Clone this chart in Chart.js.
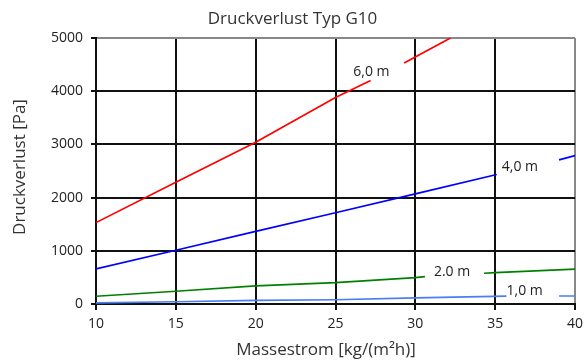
<!DOCTYPE html>
<html>
<head>
<meta charset="utf-8">
<script src="https://cdn.jsdelivr.net/npm/chart.js@4"></script>
<style>
  html, body { margin: 0; padding: 0; background: #fff; }
  #wrap { width: 585px; height: 361px; }
</style>
</head>
<body>
<div id="wrap"><canvas id="chart"></canvas></div>
<script>
// values (x = Massestrom, y = Druckverlust), null = gap for the label
const flow6 = [10, 15, 20, 25, 27.2, 28.2, 29.3, 32.2];
const loss6 = [1530, 2290, 3040, 3880, 4200, null, 4530, 5000];

const flow4 = [10, 15, 20, 25, 30, 35.1, 37, 39, 40];
const loss4 = [660, 1010, 1365, 1715, 2070, 2435, null, 2710, 2790];

const flow2 = [10, 15, 20, 25, 30, 30.6, 32.5, 34.3, 35, 40];
const loss2 = [146, 240, 340, 400, 497, 516, null, 578, 590, 655];

const flow1 = [10, 15, 20, 25, 30, 35.7, 37.3, 39, 40];
const loss1 = [20, 42, 70, 80, 115, 148, null, 150, 150];

const curveLabels = ["6,0 m", "4,0 m", "2.0 m", "1,0 m"];
const labelFlow = [27.25, 36.55, 32.3, 36.85];
const labelLoss = [4370, 2570, 600, 240];

const FONT = "'Open Sans', 'Noto Sans', sans-serif";

function pts(xs, ys) {
  return xs.map((x, i) => ({ x: x, y: ys[i] }));
}

function series(label, xs, ys, color) {
  return {
    label: label,
    data: pts(xs, ys),
    borderColor: color,
    backgroundColor: color,
    borderWidth: 1.7,
    pointRadius: 0,
    tension: 0,
    spanGaps: false,
  };
}

const textPlugin = {
  id: "texts",
  afterDraw(chart) {
    const ctx = chart.ctx;
    const xs = chart.scales.x;
    const ys = chart.scales.y;
    ctx.save();
    ctx.fillStyle = "#222";
    ctx.textAlign = "center";
    ctx.textBaseline = "middle";
    ctx.font = "14px " + FONT;
    curveLabels.forEach((t, i) => {
      ctx.fillText(t, xs.getPixelForValue(labelFlow[i]), ys.getPixelForValue(labelLoss[i]));
    });

    ctx.fillStyle = "#333";
    ctx.font = "17px " + FONT;
    ctx.fillText("Druckverlust Typ G10", 292.5, 19);
    ctx.fillText("Massestrom [kg/(m²h)]", 326, 350);

    ctx.translate(20, 167);
    ctx.rotate(-Math.PI / 2);
    ctx.fillText("Druckverlust [Pa]", 0, 0);
    ctx.restore();
  },
};

new Chart(document.getElementById("chart"), {
  type: "line",
  data: {
    datasets: [
      series("6,0 m", flow6, loss6, "#ff0000"),
      series("4,0 m", flow4, loss4, "#0000ff"),
      series("2.0 m", flow2, loss2, "#008000"),
      series("1,0 m", flow1, loss1, "#4a7df2"),
    ],
  },
  options: {
    responsive: true,
    maintainAspectRatio: false,
    animation: false,
    layout: { padding: { top: 38, right: 0, left: 0, bottom: 0 } },
    plugins: {
      legend: { display: false },
      title: { display: false },
      tooltip: { enabled: false },
    },
    scales: {
      x: {
        type: "linear",
        min: 10,
        max: 40,
        afterFit(s) {
          s.height = 57;
          s.paddingLeft = 0;
          s.paddingRight = 10;
        },
        ticks: { stepSize: 5, color: "#222", padding: 6, font: { family: FONT, size: 14 } },
        grid: {
          color: (c) => (c.tick && c.tick.value === 40 ? "#888" : "#111"),
          lineWidth: 2,
          tickLength: 6,
          tickColor: "#111",
        },
        border: { color: "#111", width: 2 },
      },
      y: {
        min: 0,
        max: 5000,
        afterFit(s) {
          s.width = 96;
          s.paddingTop = 0;
          s.paddingBottom = 0;
        },
        ticks: {
          stepSize: 1000,
          color: "#222",
          padding: 8,
          font: { family: FONT, size: 14 },
          callback: (v) => String(v),
        },
        grid: {
          color: (c) => (c.tick && c.tick.value === 5000 ? "#888" : "#111"),
          lineWidth: 2,
          tickLength: 5,
          tickColor: "#111",
        },
        border: { color: "#111", width: 2 },
      },
    },
  },
  plugins: [textPlugin],
});
</script>
</body>
</html>
